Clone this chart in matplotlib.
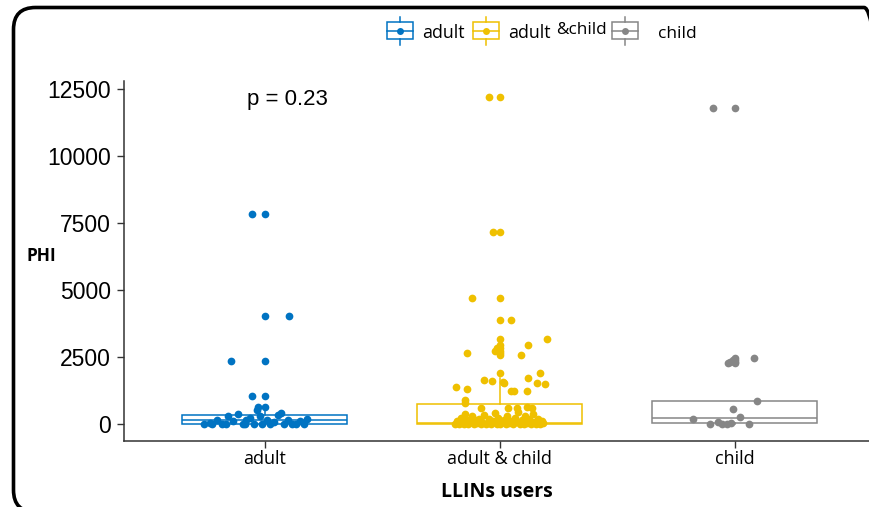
import matplotlib
matplotlib.use('Agg')
import matplotlib.pyplot as plt
from matplotlib.patches import FancyBboxPatch, Rectangle
from matplotlib.lines import Line2D
import numpy as np

# ---------------- data ----------------
categories = ['adult', 'adult & child', 'child']
colors = ['#0073C2', '#EFC000', '#868686']
yticks = [0, 2500, 5000, 7500, 10000, 12500]

# box statistics
q1 = [15, 5, 45]
med = [180, 70, 230]
q3 = [350, 750, 875]
whislo = [0, 0, 0]
whishi = [650, 1720, 875]

# observations and their horizontal jitter (category units)
adult_vals = [7840, 4040, 2370, 1050,
              20, 56, 168, 20, 317, 130, 391, 20, 168, 242, 20, 540, 652, 317,
              20, 168, 20, 93, 354, 428, 20, 168, 20, 20, 130, 20, 205, 20, 10, 15]
adult_jit = [-0.053, 0.104, -0.143, -0.053,
             -0.257, -0.232, -0.202, -0.181, -0.155, -0.134, -0.113, -0.091, -0.079,
             -0.062, -0.045, -0.032, -0.028, -0.019, -0.011, 0.011, 0.023, 0.040,
             0.057, 0.070, 0.083, 0.100, 0.117, 0.134, 0.151, 0.168, 0.181, -0.083,
             -0.164, -0.223]

ac_vals = [12200, 7180, 4700, 3890, 3190, 2970, 2850, 2750, 2650, 2590, 1907,
           1720, 1640, 1620, 1580, 1560, 1557, 1509, 1386, 1334, 1260, 1260, 1260,
           913, 800, 603, 620, 620, 640, 600,
           30, 120, 10, 250, 60, 5, 400, 180, 20, 90, 300, 10, 150, 40, 220, 0,
           110, 350, 15, 70, 200, 5, 130, 420, 30, 260, 10, 90, 170, 0, 320, 50,
           140, 10, 240, 80, 450, 20, 160, 5, 300, 60, 190, 10, 380, 100, 30, 220,
           0, 120, 40]
ac_jit = [-0.044, -0.026, -0.115, 0.047, 0.200, 0.123, -0.010, -0.021, -0.140, 0.092, 0.174,
          0.123, -0.064, -0.031, 0.013, 0.021, 0.160, 0.193, -0.184, -0.140, 0.047, 0.060, 0.118,
          -0.148, -0.148, -0.077, 0.038, 0.075, 0.118, 0.139,
          -0.190, -0.180, -0.172, -0.165, -0.158, -0.150, -0.145, -0.140, -0.132, -0.125,
          -0.118, -0.110, -0.103, -0.095, -0.088, -0.080, -0.073, -0.066, -0.058, -0.050,
          -0.043, -0.036, -0.028, -0.020, -0.012, -0.005, 0.003, 0.010, 0.018, 0.026,
          0.034, 0.041, 0.049, 0.057, 0.064, 0.072, 0.080, 0.087, 0.095, 0.103, 0.110,
          0.118, 0.126, 0.133, 0.141, 0.148, 0.156, 0.164, 0.172, 0.180, 0.187]

child_vals = [11780, 2490, 2400, 2340, 2300, 875, 577, 268, 194, 104, 67, 5, 0, 10, 30]
child_jit = [-0.093, 0.083, -0.008, -0.019, -0.026, 0.094, -0.008, 0.023, -0.175,
             -0.069, -0.016, -0.104, -0.054, 0.063, -0.032]

groups_vals = [adult_vals, ac_vals, child_vals]
groups_jit = [adult_jit, ac_jit, child_jit]

# ---------------- figure ----------------
W, H = 869, 507
fig = plt.figure(figsize=(W / 100, H / 100), dpi=100)
fig.patch.set_facecolor('white')

ax = fig.add_axes([123.5 / W, 66.3 / H, 752 / W, 359.7 / H])
ax.set_xlim(0.4, 3.6)
ax.set_ylim(-604, 12798)

lw = 1.1
for i, (vals, jit, col) in enumerate(zip(groups_vals, groups_jit, colors)):
    pos = i + 1
    vals = np.asarray(vals, float)
    fl = vals[vals > whishi[i]]
    stats = [dict(med=med[i], q1=q1[i], q3=q3[i], whislo=whislo[i], whishi=whishi[i],
                  fliers=fl)]
    ax.bxp(stats, positions=[pos], widths=0.70, patch_artist=True, showcaps=False,
           boxprops=dict(facecolor='white', edgecolor=col, linewidth=lw),
           medianprops=dict(color=col, linewidth=lw),
           whiskerprops=dict(color=col, linewidth=lw),
           flierprops=dict(marker='o', markerfacecolor=col, markeredgecolor=col,
                           markersize=5.5, markeredgewidth=0),
           zorder=2)
    ax.scatter(pos + np.asarray(jit), vals, s=31, color=col, linewidths=0, zorder=3)

for s in ['top', 'right']:
    ax.spines[s].set_visible(False)
for s in ['left', 'bottom']:
    ax.spines[s].set_color('#333333')
    ax.spines[s].set_linewidth(1.1)

ax.set_yticks(yticks)
ax.set_yticklabels([str(t) for t in yticks], fontsize=16.5, family='Liberation Sans')
ax.set_xticks([1, 2, 3])
ax.set_xticklabels(categories, fontsize=13, family='Open Sans')
ax.tick_params(axis='both', colors='#333333', length=5, width=1.0, labelcolor='black')
ax.tick_params(axis='y', pad=4)
ax.tick_params(axis='x', pad=2)

ax.set_ylabel('PHI', rotation=0, fontsize=12.5, fontweight='bold', family='Open Sans')
ax.yaxis.set_label_coords(-0.109, 0.513)
ax.set_xlabel('LLINs users', fontsize=14, fontweight='bold', family='Open Sans')
ax.xaxis.set_label_coords(0.497, -0.143)
ax.xaxis.label.set_va('center')
ax.yaxis.label.set_va('center')
ax.yaxis.label.set_ha('center')

ax.text(0.9255, 12100, 'p = 0.23', fontsize=16, family='Liberation Sans',
        ha='left', va='center')

# ---------------- legend (drawn in pixel space) ----------------
tr = fig.dpi_scale_trans


def P(px, py):
    return px / 100, (H - py) / 100


def glyph(x0, col):
    bx, by = P(x0, 39)
    fig.add_artist(Rectangle((bx, by), 0.26, 0.17, transform=tr, facecolor='white',
                             edgecolor=col, linewidth=1.1))
    cx = x0 + 13
    for (ya, yb) in [(16.5, 22), (39, 45)]:
        xa, ya_ = P(cx, ya)
        _, yb_ = P(cx, yb)
        fig.add_artist(Line2D([xa, xa], [ya_, yb_], transform=tr, color=col, lw=1.1))
    xa, ym = P(x0, 30.5)
    xb, _ = P(x0 + 26, 30.5)
    fig.add_artist(Line2D([xa, xb], [ym, ym], transform=tr, color=col, lw=1.1))
    cxx, cyy = P(cx, 30.5)
    fig.add_artist(Line2D([cxx], [cyy], transform=tr, marker='o', color=col,
                          markersize=5, markeredgewidth=0))


glyph(387, colors[0])
glyph(473, colors[1])
glyph(612, colors[2])
lx, ly = P(422, 33)
fig.text(lx, ly, 'adult', transform=tr, fontsize=12.8, family='Open Sans', va='center')
lx, ly = P(508, 33)
fig.text(lx, ly, 'adult', transform=tr, fontsize=12.8, family='Open Sans', va='center')
lx, ly = P(556, 30)
fig.text(lx, ly, '&child', transform=tr, fontsize=12.3, family='Open Sans', va='center')
lx, ly = P(658, 34)
fig.text(lx, ly, 'child', transform=tr, fontsize=12.5, family='Open Sans', va='center')

# ---------------- rounded frame ----------------
frame = FancyBboxPatch((0.135, -0.05), 8.725, 5.045, boxstyle='round,pad=0,rounding_size=0.22',
                       transform=tr, fill=False, edgecolor='black', linewidth=2.6)
fig.add_artist(frame)

fig.savefig('out.png', dpi=100)
